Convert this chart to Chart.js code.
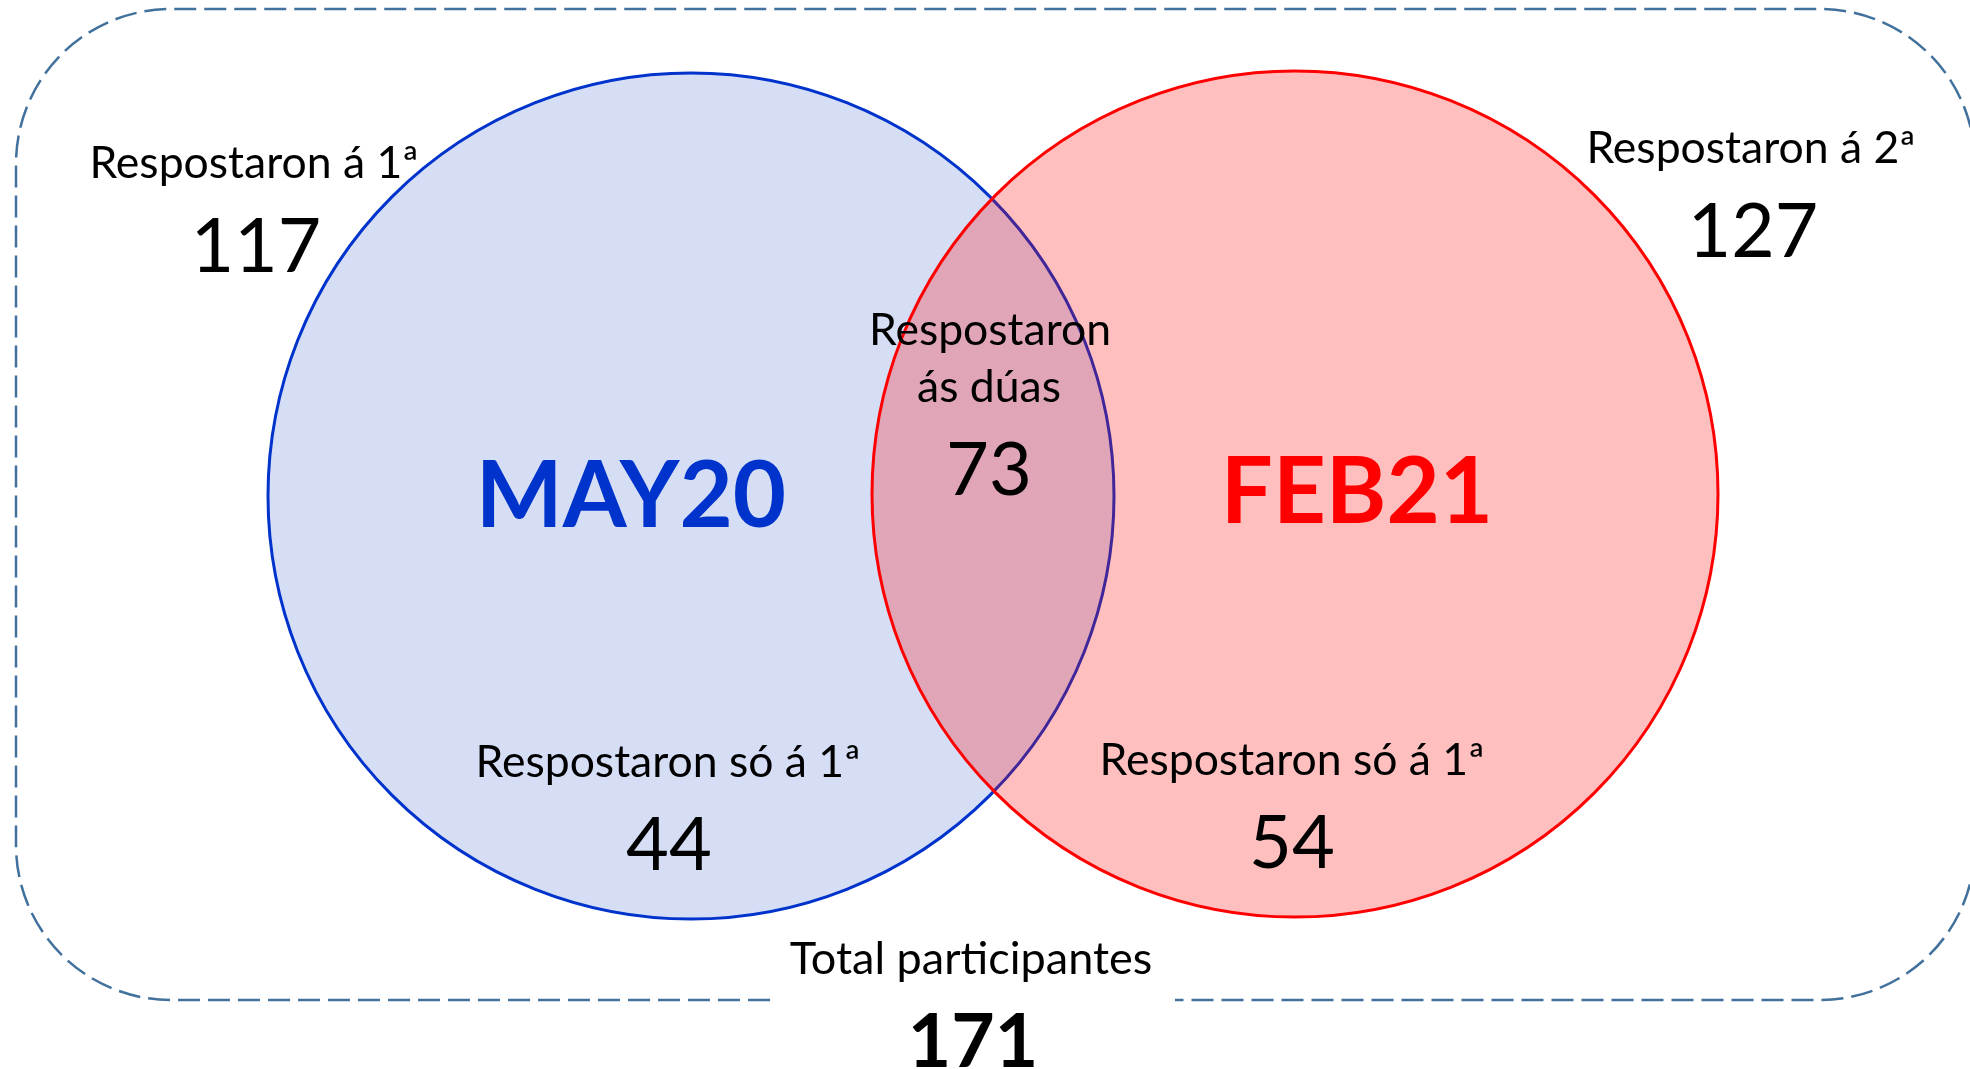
<!DOCTYPE html>
<html>
<head>
<meta charset="utf-8">
<script src="https://cdn.jsdelivr.net/npm/chart.js@4"></script>
<style>
  html, body { margin: 0; padding: 0; background: #ffffff; overflow: hidden; }
  canvas { display: block; }
</style>
</head>
<body>
<canvas id="canvas" width="1970" height="1069"></canvas>
<script>
//! ------------------------ data ------------------------
const setNames = ["MAY20", "FEB21"];
const setTotals = [117, 127];
const onlyCounts = [44, 54];
const bothCount = 73;
const totalCount = 171;
const totalLabels = ["Respostaron á 1ª", "Respostaron á 2ª"];
const onlyLabels = ["Respostaron só á 1ª", "Respostaron só á 1ª"];
const bothLabel = ["Respostaron", "ás dúas"];
const totalLabel = "Total participantes";

//! ------------------------ layout (scale units) ------------------------
const circleX = [691, 1295];
const circleY = [496, 494];
const circleR = 423;
const circleFill = ["#D6DEF5", "rgba(255, 0, 0, 0.25)"];
const circleStroke = ["#0033CC", "#FF0000"];
const font = "Lato, 'Open Sans', sans-serif";

const frame = { left: 16, top: 9, right: 1975, bottom: 1000, radius: 155, gapFrom: 770, gapTo: 1175 };

// text items: [text, x, y(baseline), size, weight, color]
const texts = [
  [totalLabels[0], 254, 178, 44.5, "normal", "#000"],
  [String(setTotals[0]), 256, 272, 75, "normal", "#000"],
  [totalLabels[1], 1751, 163, 44.5, "normal", "#000"],
  [String(setTotals[1]), 1753, 257, 75, "normal", "#000"],
  [bothLabel[0], 990, 345, 44.5, "normal", "#000"],
  [bothLabel[1], 989, 402, 44.5, "normal", "#000"],
  [String(bothCount), 989, 495, 74, "normal", "#000"],
  [setNames[0], 631, 527, 92, "bold", circleStroke[0]],
  [setNames[1], 1357, 523, 92, "bold", circleStroke[1]],
  [onlyLabels[0], 668, 777, 44.5, "normal", "#000"],
  [String(onlyCounts[0]), 669, 870, 74, "normal", "#000"],
  [onlyLabels[1], 1292, 775, 44.5, "normal", "#000"],
  [String(onlyCounts[1]), 1292, 868, 74, "normal", "#000"],
  [totalLabel, 971, 974, 45, "normal", "#000"],
  [String(totalCount), 973, 1067, 75, "bold", "#000"],
];

//! ------------------------ plugins ------------------------
const framePlugin = {
  id: "frame",
  beforeDatasetsDraw: (chart) => {
    const { ctx, scales } = chart;
    const px = (v) => scales.x.getPixelForValue(v);
    const py = (v) => scales.y.getPixelForValue(v);
    const l = px(frame.left), r = px(frame.right), t = py(frame.top), b = py(frame.bottom);
    const rad = px(frame.left + frame.radius) - l;
    ctx.save();
    ctx.strokeStyle = "#41719C";
    ctx.lineWidth = 2.5;
    ctx.setLineDash([22, 8]);
    ctx.beginPath();
    ctx.moveTo(px(frame.gapFrom), b);
    ctx.lineTo(l + rad, b);
    ctx.arcTo(l, b, l, b - rad, rad);
    ctx.lineTo(l, t + rad);
    ctx.arcTo(l, t, l + rad, t, rad);
    ctx.lineTo(r - rad, t);
    ctx.arcTo(r, t, r, t + rad, rad);
    ctx.lineTo(r, b - rad);
    ctx.arcTo(r, b, r - rad, b, rad);
    ctx.lineTo(px(frame.gapTo), b);
    ctx.stroke();
    ctx.restore();
  },
};

const labelsPlugin = {
  id: "labels",
  afterDatasetsDraw: (chart) => {
    const { ctx, scales } = chart;
    ctx.save();
    ctx.textAlign = "center";
    ctx.textBaseline = "alphabetic";
    texts.forEach(([txt, x, y, size, weight, color]) => {
      ctx.font = `${weight} ${size}px ${font}`;
      ctx.fillStyle = color;
      ctx.fillText(txt, scales.x.getPixelForValue(x), scales.y.getPixelForValue(y));
    });
    ctx.restore();
  },
};

//! ------------------------ chart ------------------------
const data = {
  datasets: [
    {
      label: "sets",
      data: setNames.map((name, i) => ({ x: circleX[i], y: circleY[i], r: circleR })),
      backgroundColor: circleFill,
      borderColor: circleStroke,
      borderWidth: 3,
      hoverBorderWidth: 3,
      clip: false,
      radius: (c) => {
        const s = c.chart.scales.x;
        return s.getPixelForValue(circleX[c.dataIndex] + circleR) - s.getPixelForValue(circleX[c.dataIndex]);
      },
    },
  ],
};

const config = {
  type: "bubble",
  data: data,
  options: {
    responsive: false,
    animation: false,
    events: [],
    layout: { padding: 0, autoPadding: false },
    plugins: { legend: { display: false }, tooltip: { enabled: false } },
    scales: {
      x: { type: "linear", min: 0, max: 1970, display: false },
      y: { type: "linear", min: 0, max: 1069, reverse: true, display: false },
    },
  },
  plugins: [framePlugin, labelsPlugin],
};

const myChart = new Chart(document.getElementById("canvas"), config);
</script>
</body>
</html>
